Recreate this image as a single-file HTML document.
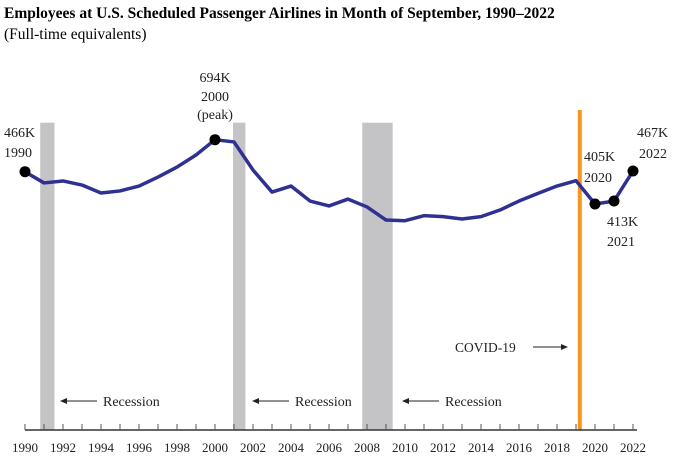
<!DOCTYPE html>
<html><head><meta charset="utf-8"><style>
body{margin:0;background:#fff;}
svg{display:block;font-family:"Liberation Serif",serif;}
</style></head><body>
<svg id="chart" width="700" height="464">
<text x="4" y="18" font-size="15.5" font-weight="bold">Employees at U.S. Scheduled Passenger Airlines in Month of September, 1990–2022</text>
<text x="4" y="39" font-size="15.5">(Full-time equivalents)</text>
<g id="bands"></g><g id="axis"></g><g id="series"></g><g id="notes"></g>
</svg>
<script>
const years=[1990,1991,1992,1993,1994,1995,1996,1997,1998,1999,2000,2001,2002,2003,2004,2005,2006,2007,2008,2009,2010,2011,2012,2013,2014,2015,2016,2017,2018,2019,2020,2021,2022];
const employees=[466,386,400,371,314,329,364,428,499,585,694,678,478,321,364,257,222,271,215,122,117,153,146,129,146,193,257,312,364,402,236,257,471];
const recessionStart=[1990.8,2000.95,2007.75];
const recessionEnd=[1991.55,2001.6,2009.35];
const tickYears=[1990,1992,1994,1996,1998,2000,2002,2004,2006,2008,2010,2012,2014,2016,2018,2020,2022];
const covidYear=2019.2;
const markedYears=[1990,2000,2020,2021,2022];
const NS="http://www.w3.org/2000/svg";
const xs=y=>25+19*(y-1990);
const ys=v=>171.7-(v-466)*0.1404;
function mk(tag,attrs,parent,txt){const e=document.createElementNS(NS,tag);for(const k in attrs)e.setAttribute(k,attrs[k]);if(txt!==undefined)e.textContent=txt;parent.appendChild(e);return e;}
const bands=document.getElementById('bands'),axis=document.getElementById('axis'),series=document.getElementById('series'),notes=document.getElementById('notes');
recessionStart.forEach((s,i)=>{
 const r=mk('rect',{x:xs(s),y:122.7,width:xs(recessionEnd[i])-xs(s),height:430-122.7,fill:'#c4c4c6'},bands);
 
 
});
const cv=mk('line',{x1:xs(covidYear),x2:xs(covidYear),y1:110,y2:430,stroke:'#f7941d','stroke-width':4},bands);


const al=mk('line',{x1:25,x2:637,y1:430,y2:430,stroke:'#333','stroke-width':1.5},axis);


years.forEach(y=>{mk('line',{x1:xs(y),x2:xs(y),y1:424,y2:430,stroke:'#555','stroke-width':1},axis);});
tickYears.forEach(y=>{
 const t=mk('text',{x:xs(y),y:452,'font-size':13,'text-anchor':'middle',fill:'#222'},axis,String(y));
 
 
});
const pts=years.map((y,i)=>xs(y)+','+ys(employees[i])).join(' ');
const pl=mk('polyline',{points:pts,fill:'none',stroke:'#2e3192','stroke-width':3.5,'stroke-linejoin':'round'},series);


markedYears.forEach(y=>{
 const i=years.indexOf(y);
 const c=mk('circle',{cx:xs(y),cy:ys(employees[i]),r:5.5,fill:'#000'},series);
 
 
});
const lbl=[[4,137,'466K'],[4,157,'1990'],[215,82,'694K','middle'],[215,101,'2000','middle'],[215,119,'(peak)','middle'],
 [584,161,'405K'],[584,182,'2020'],[607,226,'413K'],[607,246,'2021'],[637,137,'467K'],[639,158,'2022']];
lbl.forEach(l=>{
 const t=mk('text',{x:l[0],y:l[1],'font-size':14,fill:'#222','text-anchor':l[3]||'start'},notes,l[2]);
 
 
});
[[60,103],[252,295],[402,445]].forEach(a=>{
 mk('line',{x1:a[0]+4,x2:a[0]+37,y1:401,y2:401,stroke:'#222','stroke-width':1},notes);
 mk('path',{d:`M${a[0]} 401 l7 -3 v6 z`,fill:'#222'},notes);
 const t=mk('text',{x:a[1],y:406,'font-size':14,fill:'#222'},notes,'Recession');
 
 
});
const ct=mk('text',{x:455,y:352,'font-size':13.5,fill:'#222'},notes,'COVID-19');


mk('line',{x1:533,x2:564,y1:347,y2:347,stroke:'#222','stroke-width':1},notes);
mk('path',{d:'M568 347 l-7 -3 v6 z',fill:'#222'},notes);
</script>
</body></html>
